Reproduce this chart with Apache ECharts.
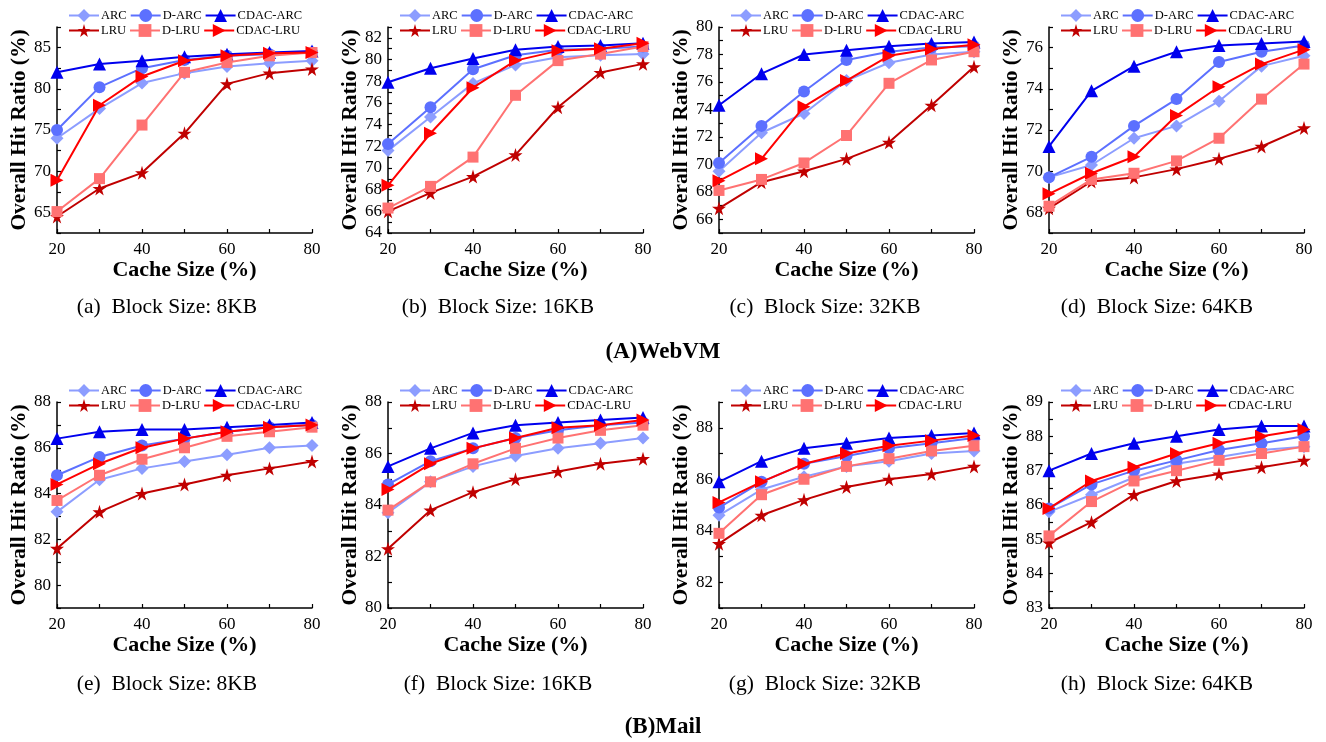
<!DOCTYPE html>
<html><head><meta charset="utf-8">
<script src="https://cdn.jsdelivr.net/npm/echarts@6/dist/echarts.min.js"></script>
<style>html,body{margin:0;padding:0;background:#fff}#c{width:1326px;height:742px}</style>
</head><body><div id="c"></div>
<script>
const cacheSizes = [20, 30, 40, 50, 60, 70, 80];
const seriesNames = ['ARC', 'D-ARC', 'CDAC-ARC', 'LRU', 'D-LRU', 'CDAC-LRU'];

// (a) WebVM, 8KB
const a_ARC     = [74.0, 77.6, 80.7, 81.9, 82.7, 83.1, 83.4];
const a_DARC    = [75.0, 80.2, 82.5, 83.5, 84.0, 84.2, 84.4];
const a_CDACARC = [82.0, 83.0, 83.4, 83.9, 84.2, 84.4, 84.6];
const a_LRU     = [64.5, 67.9, 69.8, 74.6, 80.6, 81.9, 82.4];
const a_DLRU    = [65.1, 69.1, 75.6, 82.0, 83.2, 84.0, 84.4];
const a_CDACLRU = [68.9, 78.0, 81.5, 83.4, 84.0, 84.3, 84.4];
// (b) WebVM, 16KB
const b_ARC     = [71.6, 74.7, 77.8, 79.5, 80.2, 80.4, 80.5];
const b_DARC    = [72.2, 75.6, 79.1, 80.4, 80.9, 81.0, 81.2];
const b_CDACARC = [77.9, 79.2, 80.1, 80.9, 81.2, 81.3, 81.5];
const b_LRU     = [66.0, 67.7, 69.2, 71.2, 75.6, 78.8, 79.6];
const b_DLRU    = [66.3, 68.3, 71.0, 76.7, 79.9, 80.5, 81.2];
const b_CDACLRU = [68.4, 73.2, 77.4, 79.9, 80.8, 81.0, 81.5];
// (c) WebVM, 32KB
const c_ARC     = [69.5, 72.3, 73.7, 76.1, 77.4, 78.0, 78.2];
const c_DARC    = [70.1, 72.8, 75.3, 77.6, 78.2, 78.5, 78.6];
const c_CDACARC = [74.3, 76.6, 78.0, 78.3, 78.6, 78.8, 78.9];
const c_LRU     = [66.8, 68.7, 69.5, 70.4, 71.6, 74.3, 77.1];
const c_DLRU    = [68.1, 68.9, 70.1, 72.1, 75.9, 77.6, 78.2];
const c_CDACLRU = [68.8, 70.4, 74.2, 76.1, 77.9, 78.4, 78.7];
// (d) WebVM, 64KB
const d_ARC     = [69.7, 70.3, 71.6, 72.2, 73.4, 75.1, 75.6];
const d_DARC    = [69.7, 70.7, 72.2, 73.5, 75.3, 75.8, 76.1];
const d_CDACARC = [71.2, 73.9, 75.1, 75.8, 76.1, 76.2, 76.3];
const d_LRU     = [68.2, 69.5, 69.7, 70.1, 70.6, 71.2, 72.1];
const d_DLRU    = [68.3, 69.6, 69.9, 70.5, 71.6, 73.5, 75.2];
const d_CDACLRU = [68.9, 69.9, 70.7, 72.7, 74.1, 75.2, 75.9];
// (e) Mail, 8KB
const e_ARC     = [83.2, 84.6, 85.1, 85.4, 85.7, 86.0, 86.1];
const e_DARC    = [84.8, 85.6, 86.1, 86.4, 86.7, 86.9, 87.0];
const e_CDACARC = [86.4, 86.7, 86.8, 86.8, 86.9, 87.0, 87.1];
const e_LRU     = [81.6, 83.2, 84.0, 84.4, 84.8, 85.1, 85.4];
const e_DLRU    = [83.7, 84.8, 85.5, 86.0, 86.5, 86.7, 86.9];
const e_CDACLRU = [84.4, 85.3, 86.0, 86.4, 86.7, 86.9, 87.0];
// (f) Mail, 16KB
const f_ARC     = [83.7, 84.9, 85.5, 85.9, 86.2, 86.4, 86.6];
const f_DARC    = [84.8, 85.7, 86.2, 86.6, 86.9, 87.1, 87.2];
const f_CDACARC = [85.5, 86.2, 86.8, 87.1, 87.2, 87.3, 87.4];
const f_LRU     = [82.3, 83.8, 84.5, 85.0, 85.3, 85.6, 85.8];
const f_DLRU    = [83.8, 84.9, 85.6, 86.2, 86.6, 86.9, 87.1];
const f_CDACLRU = [84.6, 85.6, 86.2, 86.6, 87.0, 87.1, 87.3];
// (g) Mail, 32KB
const g_ARC     = [84.6, 85.6, 86.1, 86.5, 86.7, 87.0, 87.1];
const g_DARC    = [84.9, 85.9, 86.6, 86.9, 87.2, 87.4, 87.6];
const g_CDACARC = [85.9, 86.7, 87.2, 87.4, 87.6, 87.7, 87.8];
const g_LRU     = [83.5, 84.6, 85.2, 85.7, 86.0, 86.2, 86.5];
const g_DLRU    = [83.9, 85.4, 86.0, 86.5, 86.8, 87.1, 87.3];
const g_CDACLRU = [85.1, 85.9, 86.6, 87.0, 87.3, 87.5, 87.7];
// (h) Mail, 64KB
const h_ARC     = [85.8, 86.3, 86.8, 87.2, 87.4, 87.6, 87.7];
const h_DARC    = [85.9, 86.6, 87.0, 87.3, 87.6, 87.8, 88.0];
const h_CDACARC = [87.0, 87.5, 87.8, 88.0, 88.2, 88.3, 88.3];
const h_LRU     = [84.9, 85.5, 86.3, 86.7, 86.9, 87.1, 87.3];
const h_DLRU    = [85.1, 86.1, 86.7, 87.0, 87.3, 87.5, 87.7];
const h_CDACLRU = [85.9, 86.7, 87.1, 87.5, 87.8, 88.0, 88.2];

// y-axis ranges and label steps per panel
const yMins = [62.5, 64, 65, 67, 79, 80, 81, 83];
const yMaxs = [87.5, 83, 80, 77, 88, 88, 89, 89];
const yLabelSteps = [5, 2, 2, 2, 2, 2, 2, 1];
const xTickLabels = [20, 40, 60, 80];

const captions = ['(a)  Block Size: 8KB', '(b)  Block Size: 16KB', '(c)  Block Size: 32KB', '(d)  Block Size: 64KB',
                  '(e)  Block Size: 8KB', '(f)  Block Size: 16KB', '(g)  Block Size: 32KB', '(h)  Block Size: 64KB'];
const groupTitles = ['(A)WebVM', '(B)Mail'];

const panels = [
  [a_ARC, a_DARC, a_CDACARC, a_LRU, a_DLRU, a_CDACLRU],
  [b_ARC, b_DARC, b_CDACARC, b_LRU, b_DLRU, b_CDACLRU],
  [c_ARC, c_DARC, c_CDACARC, c_LRU, c_DLRU, c_CDACLRU],
  [d_ARC, d_DARC, d_CDACARC, d_LRU, d_DLRU, d_CDACLRU],
  [e_ARC, e_DARC, e_CDACARC, e_LRU, e_DLRU, e_CDACLRU],
  [f_ARC, f_DARC, f_CDACARC, f_LRU, f_DLRU, f_CDACLRU],
  [g_ARC, g_DARC, g_CDACARC, g_LRU, g_DLRU, g_CDACLRU],
  [h_ARC, h_DARC, h_CDACARC, h_LRU, h_DLRU, h_CDACLRU]
];

const STAR = 'path://M50,0 L61,35 L98,35 L68,57 L79,91 L50,70 L21,91 L32,57 L2,35 L39,35 Z';
const styles = [
  {color: '#8c9dff', symbol: 'diamond', size: 13, rot: 0},
  {color: '#5c70ff', symbol: 'circle', size: 12, rot: 0},
  {color: '#0000ee', symbol: 'triangle', size: 13, rot: 0},
  {color: '#c00000', symbol: STAR, size: 14, rot: 0},
  {color: '#ff7272', symbol: 'rect', size: 11, rot: 0},
  {color: '#ff0000', symbol: 'triangle', size: 13, rot: -90}
];

const FONT = 'Liberation Serif';
const gridLefts = [57, 388, 719, 1049];
const gridTops = [27, 402];
const GW = 255, GH = 206;

const grid = [], xAxis = [], yAxis = [], series = [], legend = [], graphic = [];
for (let p = 0; p < 8; p++) {
  const col = p % 4, row = Math.floor(p / 4);
  const left = gridLefts[col], top = gridTops[row];
  grid.push({left: left, top: top, width: GW, height: GH, containLabel: false});
  xAxis.push({
    type: 'value', gridIndex: p, min: 20, max: 80, interval: 10,
    name: 'Cache Size (%)', nameLocation: 'middle', nameGap: 26,
    nameTextStyle: {fontFamily: FONT, fontWeight: 'bold', fontSize: 22, color: '#000'},
    axisLine: {show: true, onZero: false, lineStyle: {color: '#000', width: 1.5}},
    axisTick: {show: true, inside: true, length: 4, lineStyle: {color: '#000', width: 1.2}},
    axisLabel: {fontFamily: FONT, fontSize: 17, color: '#000', margin: 8,
      formatter: v => (xTickLabels.indexOf(Math.round(v)) >= 0 ? String(Math.round(v)) : '')},
    splitLine: {show: false}
  });
  const step = yLabelSteps[p];
  yAxis.push({
    type: 'value', gridIndex: p, min: yMins[p], max: yMaxs[p], interval: step / 2,
    name: 'Overall Hit Ratio (%)', nameLocation: 'middle', nameGap: 21,
    nameTextStyle: {fontFamily: FONT, fontWeight: 'bold', fontSize: 21.5, color: '#000'},
    axisLine: {show: true, onZero: false, lineStyle: {color: '#000', width: 1.5}},
    axisTick: {show: true, inside: true, length: 4, lineStyle: {color: '#000', width: 1.2}},
    axisLabel: {fontFamily: FONT, fontSize: 17, color: '#000', margin: 6,
      formatter: v => (Math.abs(v / step - Math.round(v / step)) < 1e-6 ? String(Math.round(v)) : '')},
    splitLine: {show: false}
  });
  panels[p].forEach((vals, i) => {
    const st = styles[i];
    series.push({
      type: 'line', name: seriesNames[i], xAxisIndex: p, yAxisIndex: p,
      data: cacheSizes.map((x, k) => [x, vals[k]]),
      symbol: st.symbol, symbolSize: st.size, symbolRotate: st.rot,
      lineStyle: {color: st.color, width: 2},
      itemStyle: {color: st.color},
      animation: false, z: 2 + i
    });
  });
  [seriesNames.slice(0, 3), seriesNames.slice(3)].forEach((names, r) => {
    legend.push({
      data: names, left: left + 11, top: top - 18 + r * 15,
      orient: 'horizontal', itemWidth: 30, itemHeight: 16, itemGap: 3, padding: 0,
      textStyle: {fontFamily: FONT, fontSize: 12.5, color: '#000', padding: [0, 0, 0, -3]},
      selectedMode: false
    });
  });
  const capX = [167, 498, 825, 1157][col];
  graphic.push({type: 'text', x: capX, y: row === 0 ? 296 : 673,
    style: {text: captions[p], fontFamily: FONT, fontSize: 21.5, fill: '#000', textAlign: 'center', textVerticalAlign: 'top'}});
}
groupTitles.forEach((t, r) => {
  graphic.push({type: 'text', x: 663, y: r === 0 ? 341 : 716,
    style: {text: t, fontFamily: FONT, fontSize: 23, fontWeight: 'bold', fill: '#000', textAlign: 'center', textVerticalAlign: 'top'}});
});

const chart = echarts.init(document.getElementById('c'), null, {renderer: 'canvas'});
chart.setOption({
  backgroundColor: '#fff', animation: false,
  textStyle: {fontFamily: FONT},
  grid, xAxis, yAxis, series, legend, graphic
});
</script></body></html>
